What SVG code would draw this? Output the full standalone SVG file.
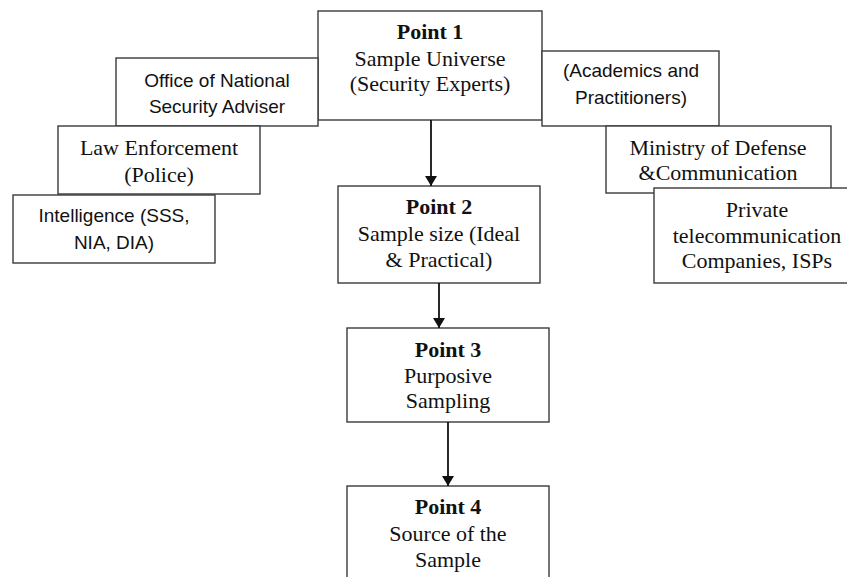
<svg xmlns="http://www.w3.org/2000/svg" width="847" height="577" viewBox="0 0 847 577">
  <style>
    .box { fill: #ffffff; stroke: #3a3a3a; stroke-width: 1.4; }
    .serif { font-family: "Liberation Serif", "Times New Roman", serif; font-size: 22px; fill: #111; text-anchor: middle; }
    .bold { font-weight: bold; }
    .sans { font-family: "Liberation Sans", Arial, sans-serif; font-size: 19px; fill: #111; text-anchor: middle; }
    .link { stroke: #111; stroke-width: 1.8; fill: none; marker-end: url(#arrow); }
  </style>
  <defs>
    <marker id="arrow" markerWidth="10" markerHeight="12" refX="10" refY="6" orient="auto" markerUnits="userSpaceOnUse">
      <path d="M0,0 L10,6 L0,12 Z" fill="#111"/>
    </marker>
  </defs>
  <rect width="847" height="577" fill="#ffffff"/>

  <g id="point1">
    <rect class="box" x="318" y="11" width="224" height="109"/>
    <text class="serif bold" x="430" y="39">Point 1</text>
    <text class="serif" x="430" y="66">Sample Universe</text>
    <text class="serif" x="430" y="91">(Security Experts)</text>
  </g>

  <g id="office-nsa">
    <rect class="box" x="116" y="58" width="202" height="68"/>
    <text class="sans" x="217" y="87">Office of National</text>
    <text class="sans" x="217" y="113">Security Adviser</text>
  </g>

  <g id="law-enforcement">
    <rect class="box" x="58" y="126" width="202" height="68"/>
    <text class="serif" x="159" y="155">Law Enforcement</text>
    <text class="serif" x="159" y="182">(Police)</text>
  </g>

  <g id="intelligence">
    <rect class="box" x="13" y="195" width="202" height="68"/>
    <text class="sans" x="114" y="222">Intelligence (SSS,</text>
    <text class="sans" x="114" y="249">NIA, DIA)</text>
  </g>

  <g id="academics">
    <rect class="box" x="542" y="51" width="177" height="75"/>
    <text class="sans" x="631" y="77">(Academics and</text>
    <text class="sans" x="631" y="104">Practitioners)</text>
  </g>

  <g id="ministry">
    <rect class="box" x="606" y="126" width="225" height="67"/>
    <text class="serif" x="718" y="155">Ministry of Defense</text>
    <text class="serif" x="718" y="180">&amp;Communication</text>
  </g>

  <g id="private-telecom">
    <rect class="box" x="654" y="188" width="206" height="95"/>
    <text class="serif" x="757" y="217">Private</text>
    <text class="serif" x="757" y="243">telecommunication</text>
    <text class="serif" x="757" y="268">Companies, ISPs</text>
  </g>

  <g id="point2">
    <rect class="box" x="338" y="186" width="202" height="97"/>
    <text class="serif bold" x="439" y="214">Point 2</text>
    <text class="serif" x="439" y="241">Sample size (Ideal</text>
    <text class="serif" x="439" y="267">&amp; Practical)</text>
  </g>

  <g id="point3">
    <rect class="box" x="347" y="328" width="202" height="94"/>
    <text class="serif bold" x="448" y="357">Point 3</text>
    <text class="serif" x="448" y="383">Purposive</text>
    <text class="serif" x="448" y="408">Sampling</text>
  </g>

  <g id="point4">
    <rect class="box" x="347" y="486" width="202" height="100"/>
    <text class="serif bold" x="448" y="514">Point 4</text>
    <text class="serif" x="448" y="541">Source of the</text>
    <text class="serif" x="448" y="567">Sample</text>
  </g>

  <g id="connectors">
    <line class="link" x1="431" y1="120" x2="431" y2="186"/>
    <line class="link" x1="439" y1="283" x2="439" y2="328"/>
    <line class="link" x1="448" y1="422" x2="448" y2="486"/>
  </g>
</svg>
